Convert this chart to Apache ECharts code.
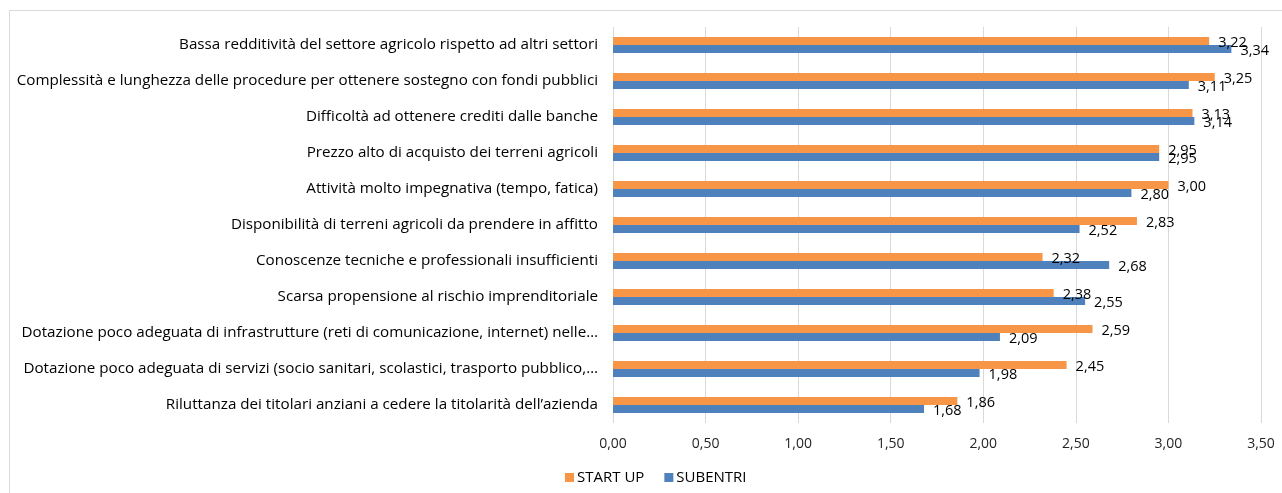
<!DOCTYPE html>
<html>
<head>
<meta charset="utf-8">
<script src="https://cdn.jsdelivr.net/npm/echarts@6/dist/echarts.min.js"></script>
<style>html,body{margin:0;padding:0;background:#fff}#c{width:1282px;height:493px}</style>
</head>
<body>
<div id="c"></div>
<script>
const categories = [
  "Bassa redditività del settore agricolo rispetto ad altri settori",
  "Complessità e lunghezza delle procedure per ottenere sostegno con fondi pubblici",
  "Difficoltà ad ottenere crediti dalle banche",
  "Prezzo alto di acquisto dei terreni agricoli",
  "Attività molto impegnativa (tempo, fatica)",
  "Disponibilità di terreni agricoli da prendere in affitto",
  "Conoscenze tecniche e professionali insufficienti",
  "Scarsa propensione al rischio imprenditoriale",
  "Dotazione poco adeguata di infrastrutture (reti di comunicazione, internet) nelle…",
  "Dotazione poco adeguata di servizi (socio sanitari, scolastici, trasporto pubblico,…",
  "Riluttanza dei titolari anziani a cedere la titolarità dell’azienda"
];
const startUp = [3.22, 3.25, 3.13, 2.95, 3.00, 2.83, 2.32, 2.38, 2.59, 2.45, 1.86];
const subentri = [3.34, 3.11, 3.14, 2.95, 2.80, 2.52, 2.68, 2.55, 2.09, 1.98, 1.68];
const seriesNames = ["START UP", "SUBENTRI"];

const FONT = "Open Sans";
const fmt = v => v.toFixed(2).replace('.', ',');
const chart = echarts.init(document.getElementById('c'), null, {renderer: 'canvas'});
const labelCfg = {
  show: true, position: 'right', distance: 9, offset: [0, 2],
  formatter: p => fmt(p.value),
  fontFamily: FONT, fontSize: 14.5, color: '#000'
};
chart.setOption({
  animation: false,
  textStyle: {fontFamily: FONT},
  graphic: [{
    type: 'rect', shape: {x: 9.5, y: 10.5, width: 1300, height: 500},
    style: {fill: 'none', stroke: '#d9d9d9', lineWidth: 1}, silent: true
  }],
  grid: {left: 613, right: 21, top: 27, bottom: 70, containLabel: false},
  legend: {
    left: 560, top: 465,
    itemWidth: 9, itemHeight: 9, itemGap: 20,
    icon: 'rect',
    textStyle: {fontFamily: FONT, fontSize: 15, color: '#000', padding: [0, 0, 0, -2]},
    data: seriesNames
  },
  xAxis: {
    type: 'value', min: 0, max: 3.5, interval: 0.5,
    axisLine: {show: false}, axisTick: {show: false},
    splitLine: {show: true, lineStyle: {color: '#d9d9d9', width: 1}},
    axisLabel: {formatter: v => fmt(v), fontFamily: FONT, fontSize: 14, color: '#262626', margin: 14}
  },
  yAxis: {
    type: 'category', data: categories, inverse: true,
    axisLine: {show: false}, axisTick: {show: false},
    axisLabel: {fontFamily: FONT, fontSize: 15.2, color: '#000', margin: 15}
  },
  series: [
    {name: seriesNames[0], type: 'bar', data: startUp, barWidth: 8, barGap: '0%',
     itemStyle: {color: '#F79646'}, label: labelCfg},
    {name: seriesNames[1], type: 'bar', data: subentri, barWidth: 8, barGap: '0%',
     itemStyle: {color: '#4F81BD'}, label: labelCfg}
  ]
});
</script>
</body>
</html>
